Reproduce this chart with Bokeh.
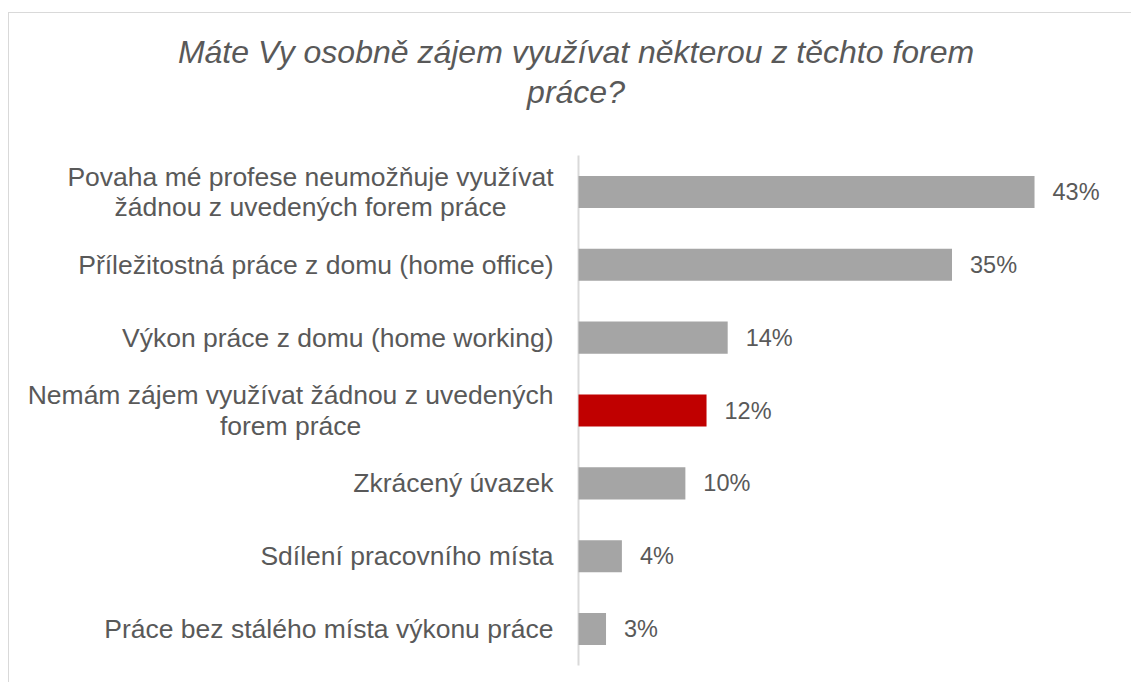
from bokeh.plotting import figure
from bokeh.models import Range1d, ColumnDataSource
from bokeh.core.properties import value
from bokeh.embed import file_html
from bokeh.resources import INLINE

title_lines = ["Máte Vy osobně zájem využívat některou z těchto forem", "práce?"]
categories = [
    "Povaha mé profese neumožňuje využívat\nžádnou z uvedených forem práce",
    "Příležitostná práce z domu (home office)",
    "Výkon práce z domu (home working)",
    "Nemám zájem využívat žádnou z uvedených\nforem práce",
    "Zkrácený úvazek",
    "Sdílení pracovního místa",
    "Práce bez stálého místa výkonu práce",
]
values = [43.1, 35.3, 14.1, 12.1, 10.1, 4.1, 2.6]
labels = ["43%", "35%", "14%", "12%", "10%", "4%", "3%"]
highlight = [False, False, False, True, False, False, False]

GRAY = "#A5A5A5"
RED = "#C00000"
TEXT = "#595959"
AXIS = "#d9d9d9"
FONT = "Liberation Sans"

n = len(categories)
pos = [n - 1 - i for i in range(n)]          # category slot, top to bottom
colors = [RED if h else GRAY for h in highlight]
src = ColumnDataSource(dict(cat=categories, pos=pos, val=values, lab=labels,
                            color=colors, zero=[0] * n))

# frame fills the canvas; ranges chosen so the bar area sits right of the labels
p = figure(
    width=1123, height=670,
    x_range=Range1d(-53.78, 52.36),
    y_range=Range1d(-0.747, 8.449),
    output_backend="svg", toolbar_location=None,
    min_border_left=0, min_border_right=0,
    min_border_top=0, min_border_bottom=0,
)
p.styles = {"margin-top": "12px", "margin-left": "8px",
            "border-top": "1px solid #d9d9d9",
            "border-left": "1px solid #d9d9d9"}
p.xaxis.visible = False
p.yaxis.visible = False
p.xgrid.grid_line_color = None
p.ygrid.grid_line_color = None
p.outline_line_color = None

# category axis line
p.segment(x0=[0], x1=[0], y0=[-0.5], y1=[n - 0.5], line_color=AXIS, line_width=2)

p.hbar(y="pos", left=0, right="val", height=0.44, color="color",
       line_color=None, source=src)

# value labels
p.text(x="val", y="pos", text="lab", source=src, x_offset=18,
       text_align="left", text_baseline="middle",
       text_font=value(FONT), text_font_size="23.5px", text_color=TEXT)

# category labels: right-anchored block, lines centred
p.text(x="zero", y="pos", text="cat", source=src, x_offset=-25,
       anchor="center_right", text_align="center", text_baseline="middle",
       text_line_height=1.02,
       text_font=value(FONT), text_font_size="26.5px", text_color=TEXT)

# title
p.text(x=[0, 0], y=[n - 0.5, n - 0.5], text=title_lines,
       x_offset=-2.5, y_offset=[-103, -63],
       text_align="center", text_baseline="alphabetic",
       text_font=value(FONT), text_font_style="italic",
       text_font_size="32px", text_color=TEXT)

open("out.html", "w").write(file_html(p, INLINE))
